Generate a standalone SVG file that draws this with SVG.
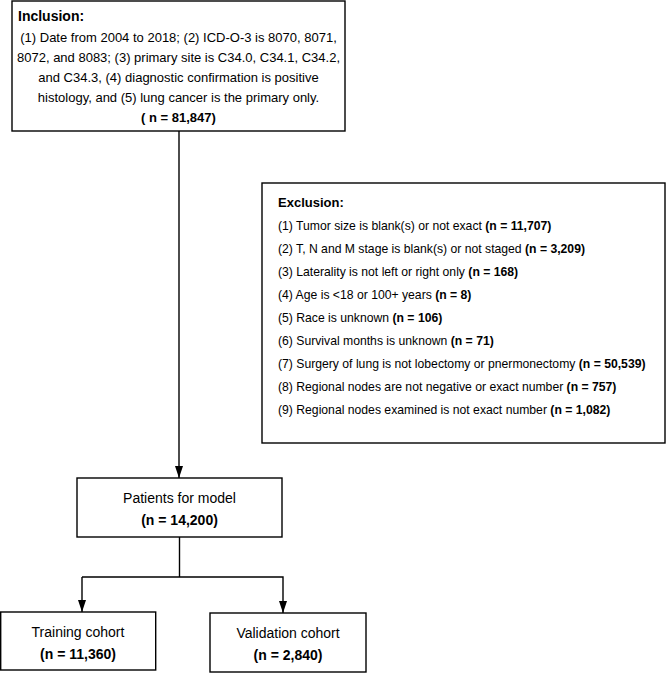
<svg xmlns="http://www.w3.org/2000/svg" width="669" height="673" viewBox="0 0 669 673">
<defs>
<style>
.box{fill:#fff;stroke:#000;stroke-width:1.4}
.t{font-family:"Liberation Sans",Arial,sans-serif;font-size:13px;fill:#000}
.s{font-family:"Liberation Sans",Arial,sans-serif;font-size:12.2px;fill:#000}
.m{font-family:"Liberation Sans",Arial,sans-serif;font-size:14px;fill:#000}
.h{font-family:"Liberation Sans",Arial,sans-serif;font-size:14px;font-weight:bold;fill:#000}
.b{font-weight:bold}
.c{text-anchor:middle}
.ln{fill:none;stroke:#000;stroke-width:1.4}
</style>
<marker id="ah" viewBox="0 0 10 10" refX="10" refY="5" markerWidth="12" markerHeight="8" markerUnits="userSpaceOnUse" orient="auto" preserveAspectRatio="none">
<path d="M0,0 L10,5 L0,10 Z" fill="#000"/>
</marker>
</defs>
<rect width="669" height="673" fill="#fff"/>
<g id="connectors">
<line class="ln" x1="179" y1="131" x2="179" y2="478" marker-end="url(#ah)"/>
<line class="ln" x1="179.5" y1="537" x2="179.5" y2="577"/>
<polyline class="ln" points="82,577 283,577 283,613" marker-end="url(#ah)"/>
<line class="ln" x1="82" y1="577" x2="82" y2="612" marker-end="url(#ah)"/>
</g>
<g id="inclusion">
<rect class="box" x="12" y="1" width="333" height="130"/>
<text class="h" x="18" y="21">Inclusion:</text>
<text class="t c" x="178.5" y="42">(1) Date from 2004 to 2018; (2) ICD-O-3 is 8070, 8071,</text>
<text class="t c" x="178.5" y="62">8072, and 8083; (3) primary site is C34.0, C34.1, C34.2,</text>
<text class="t c" x="178.5" y="82">and C34.3, (4) diagnostic confirmation is positive</text>
<text class="t c" x="178.5" y="102">histology, and (5) lung cancer is the primary only.</text>
<text class="t b c" x="178.5" y="122">( n = 81,847)</text>
</g>
<g id="exclusion">
<rect class="box" x="262" y="183" width="403" height="260"/>
<text class="s b" x="278" y="207" style="font-size:13px">Exclusion:</text>
<text class="s" x="278" y="230">(1) Tumor size is blank(s) or not exact <tspan class="b">(n = 11,707)</tspan></text>
<text class="s" x="278" y="253">(2) T, N and M stage is blank(s) or not staged <tspan class="b">(n = 3,209)</tspan></text>
<text class="s" x="278" y="276">(3) Laterality is not left or right only <tspan class="b">(n = 168)</tspan></text>
<text class="s" x="278" y="299">(4) Age is &lt;18 or 100+ years <tspan class="b">(n = 8)</tspan></text>
<text class="s" x="278" y="322">(5) Race is unknown <tspan class="b">(n = 106)</tspan></text>
<text class="s" x="278" y="345">(6) Survival months is unknown <tspan class="b">(n = 71)</tspan></text>
<text class="s" x="278" y="368">(7) Surgery of lung is not lobectomy or pnermonectomy <tspan class="b">(n = 50,539)</tspan></text>
<text class="s" x="278" y="391">(8) Regional nodes are not negative or exact number <tspan class="b">(n = 757)</tspan></text>
<text class="s" x="278" y="414">(9) Regional nodes examined is not exact number <tspan class="b">(n = 1,082)</tspan></text>
</g>
<g id="patients">
<rect class="box" x="77" y="478" width="205" height="59"/>
<text class="m c" x="179.5" y="503">Patients for model</text>
<text class="m b c" x="179.5" y="525">(n = 14,200)</text>
</g>
<g id="training">
<rect class="box" x="0.7" y="612" width="155" height="58"/>
<text class="m c" x="78" y="637">Training cohort</text>
<text class="m b c" x="78" y="659">(n = 11,360)</text>
</g>
<g id="validation">
<rect class="box" x="210" y="613" width="156" height="59"/>
<text class="m c" x="288" y="638">Validation cohort</text>
<text class="m b c" x="288" y="660">(n = 2,840)</text>
</g>
</svg>
